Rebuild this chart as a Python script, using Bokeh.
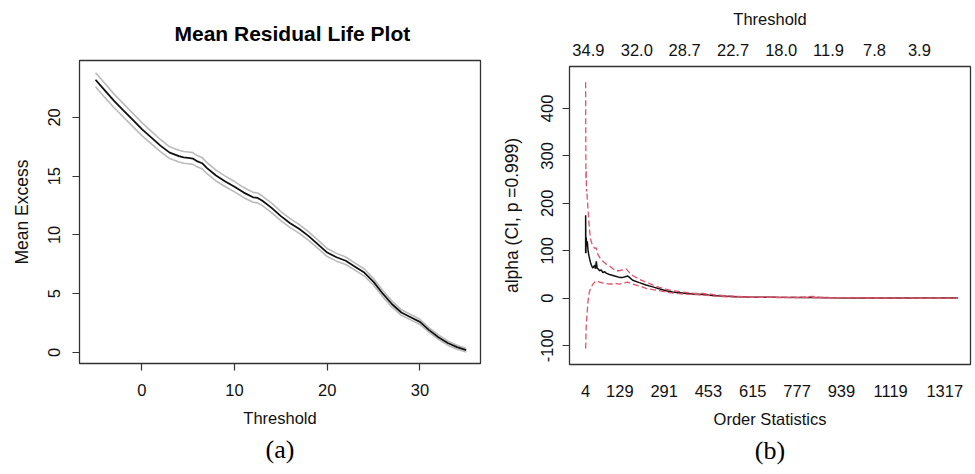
from bokeh.plotting import figure
from bokeh.models import FixedTicker, LinearAxis, Range1d, Title
from bokeh.layouts import row
from bokeh.embed import file_html
from bokeh.resources import INLINE

# ---------------- Panel (a): Mean residual life ----------------
thr = [-5, -4, -3, -2, -1, 0, 1, 2, 3, 4, 4.5, 5, 5.5, 6, 6.5, 7, 8, 9, 10, 11,
       12, 12.5, 13, 14, 15, 16, 17, 18, 19, 20, 21, 22, 23, 24, 25, 26, 27,
       28, 29, 30, 31, 32, 33, 34, 35]
mean_excess = [23.2, 22.3, 21.4, 20.6, 19.8, 19.0, 18.3, 17.6, 17.0, 16.7, 16.6,
               16.55, 16.5, 16.25, 16.1, 15.7, 15.05, 14.55, 14.1, 13.6, 13.2,
               13.15, 12.9, 12.3, 11.6, 11.0, 10.5, 9.9, 9.2, 8.5, 8.1, 7.8, 7.3,
               6.8, 6.0, 5.0, 4.1, 3.4, 3.0, 2.6, 1.9, 1.3, 0.8, 0.45, 0.2]
ci_half = [0.6, 0.6, 0.58, 0.57, 0.56, 0.55, 0.53, 0.52, 0.5, 0.5, 0.5, 0.5, 0.5,
           0.48, 0.48, 0.47, 0.46, 0.45, 0.44, 0.43, 0.42, 0.42, 0.41, 0.4, 0.39,
           0.38, 0.37, 0.36, 0.35, 0.34, 0.33, 0.32, 0.3, 0.3, 0.28, 0.27, 0.25,
           0.24, 0.23, 0.22, 0.2, 0.19, 0.18, 0.17, 0.15]
me_ticks_x = [0, 10, 20, 30]
me_ticks_y = [0, 5, 10, 15, 20]

# ---------------- Panel (b): Hill plot ----------------
k_alpha = [4, 4, 5, 6, 8, 10, 13, 16, 19, 22, 25, 28, 31, 37, 40, 43, 46, 49, 55,
           61, 67, 73, 79, 91, 104, 116, 128, 140, 152, 158, 164, 176, 200, 225,
           249, 273, 298, 322, 358, 395, 431, 468, 520, 560, 600, 700, 800, 836,
           900, 1000, 1100, 1200, 1300, 1365]
alpha_hat = [95, 175, 95, 128, 110, 120, 100, 90, 82, 75, 70, 66, 64, 70, 62, 78,
             64, 62, 58, 60, 54, 56, 53, 50, 48, 46, 44, 44, 46, 47, 44, 38, 33,
             28, 24, 20, 16, 13, 11, 9, 8, 6, 4, 3, 2.5, 2, 1.8, 1.5, 1, 0.8, 0.6,
             0.5, 0.4, 0.3]
k_upper = [4, 5, 6, 7, 8, 10, 13, 16, 19, 22, 25, 31, 37, 43, 49, 55, 67, 79, 91,
           104, 116, 128, 140, 152, 164, 176, 200, 225, 249, 273, 298, 322, 358,
           395, 431, 468, 520, 560, 600, 700, 800, 836, 860, 900, 1000, 1100,
           1200, 1300, 1365]
alpha_upper = [455, 250, 270, 225, 230, 210, 185, 160, 140, 125, 118, 110, 105,
               106, 92, 86, 78, 72, 68, 62, 58, 58, 60, 62, 54, 48, 40, 34, 28,
               23, 19, 16, 13, 11, 10, 8, 5, 4, 3, 2.5, 2.2, 4, 2, 1.3, 1, 0.8,
               0.6, 0.5, 0.4]
k_lower = [4, 6, 9, 13, 16, 19, 25, 31, 37, 43, 49, 55, 67, 79, 91, 104, 116, 128,
           140, 158, 176, 200, 225, 249, 273, 298, 322, 358, 395, 431, 468, 520,
           560, 600, 700, 800, 900, 1000, 1100, 1200, 1300, 1365]
alpha_lower = [-106, -60, -33, -5, 8, 16, 24, 30, 34, 37, 35, 34, 32, 31, 30, 30,
               31, 30, 32, 34, 30, 26, 21, 18, 16, 13, 11, 9, 8, 7, 5, 3, 2.5, 2,
               1.6, 1.4, 0.8, 0.6, 0.5, 0.4, 0.3, 0.2]
order_ticks = [4, 129, 291, 453, 615, 777, 939, 1119, 1317]
thresh_pos = [14, 191, 366, 543, 719, 892, 1060, 1224]
thresh_labels = ["34.9", "32.0", "28.7", "22.7", "18.0", "11.9", "7.8", "3.9"]
alpha_ticks = [-100, 0, 100, 200, 300, 400]

SANS = "Liberation Sans"
SERIF = "Liberation Serif"
TICK_FS = "16.5px"
XLAB_FS = "16.5px"
YLAB_FS = "17.5px"
BOX = "#333333"


def style_axis(ax, ticks, tick_len=7, label_standoff=9, title_standoff=8,
               label_fs=XLAB_FS, overrides=None):
    ax.ticker = FixedTicker(ticks=ticks)
    ax.axis_line_color = None
    ax.major_tick_out = tick_len
    ax.major_tick_in = 0
    ax.minor_tick_out = 0
    ax.minor_tick_in = 0
    ax.major_tick_line_color = BOX if tick_len > 0 else None
    ax.major_tick_line_width = 1.2
    ax.major_label_standoff = label_standoff
    ax.major_label_text_font = SANS
    ax.major_label_text_font_size = TICK_FS
    ax.major_label_text_color = "#111111"
    ax.axis_label_text_font = SANS
    ax.axis_label_text_font_size = label_fs
    ax.axis_label_text_font_style = "normal"
    ax.axis_label_text_color = "#111111"
    ax.axis_label_standoff = title_standoff
    if overrides:
        ax.major_label_overrides = overrides


# ---- figure (a)
p1 = figure(width=490, height=474, output_backend="svg", toolbar_location=None,
            x_range=Range1d(-6.73, 36.54), y_range=Range1d(-0.94, 24.84),
            min_border_left=79, min_border_right=10, min_border_top=60,
            min_border_bottom=111, frame_align=False)
p1.outline_line_color = BOX
p1.outline_line_width = 1.3
p1.xgrid.visible = False
p1.ygrid.visible = False
p1.background_fill_color = "white"
p1.border_fill_color = "white"

lower = [m - h for m, h in zip(mean_excess, ci_half)]
upper = [m + h for m, h in zip(mean_excess, ci_half)]
p1.line(thr, upper, line_color="#bbbbbb", line_width=1.6)
p1.line(thr, lower, line_color="#bbbbbb", line_width=1.6)
p1.line(thr, mean_excess, line_color="#111111", line_width=1.8)

p1.xaxis.axis_label = "Threshold"
p1.yaxis.axis_label = "Mean Excess"
style_axis(p1.xaxis[0], me_ticks_x, label_standoff=13, title_standoff=10)
style_axis(p1.yaxis[0], me_ticks_y, label_standoff=12, title_standoff=14,
           label_fs=YLAB_FS)
p1.yaxis.major_label_orientation = "vertical"

p1.title.text = "Mean Residual Life Plot"
p1.title.text_font = SANS
p1.title.text_font_style = "bold"
p1.title.text_font_size = "21px"
p1.title.align = "left"
p1.title.offset = 95
p1.title.standoff = 32
p1.title.vertical_align = "bottom"
p1.title.text_color = "#000000"

p1.add_layout(Title(text="(a)", align="center", text_font=SERIF,
                    text_font_size="26px", text_font_style="normal",
                    text_color="#000000", standoff=6), "below")

# ---- figure (b)
p2 = figure(width=485, height=474, output_backend="svg", toolbar_location=None,
            x_range=Range1d(-55, 1411), y_range=Range1d(-139.6, 488.4),
            min_border_left=79, min_border_right=5, min_border_top=66,
            min_border_bottom=110, frame_align=False)
p2.outline_line_color = BOX
p2.outline_line_width = 1.3
p2.xgrid.visible = False
p2.ygrid.visible = False
p2.background_fill_color = "white"
p2.border_fill_color = "white"

p2.line(k_alpha, alpha_hat, line_color="#111111", line_width=1.5)
p2.line(k_upper, alpha_upper, line_color="#DF536B", line_width=1.3,
        line_dash="6 3")
p2.line(k_lower, alpha_lower, line_color="#DF536B", line_width=1.3,
        line_dash="6 3")

p2.xaxis.axis_label = "Order Statistics"
p2.yaxis.axis_label = "alpha (CI, p =0.999)"
style_axis(p2.xaxis[0], order_ticks, tick_len=0, label_standoff=20,
           title_standoff=10)
style_axis(p2.yaxis[0], alpha_ticks, title_standoff=17, label_fs=YLAB_FS,
           overrides={-100: "-100"})
p2.yaxis.major_label_orientation = "vertical"

top_axis = LinearAxis(axis_label="Threshold")
style_axis(top_axis, thresh_pos, tick_len=0, label_standoff=11,
           title_standoff=13,
           overrides={pos: lab for pos, lab in zip(thresh_pos, thresh_labels)})
p2.add_layout(top_axis, "above")

p2.add_layout(Title(text="(b)", align="center", text_font=SERIF,
                    text_font_size="26px", text_font_style="normal",
                    text_color="#000000", standoff=6), "below")

layout = row(p1, p2)
open("out.html", "w").write(file_html(layout, INLINE))
